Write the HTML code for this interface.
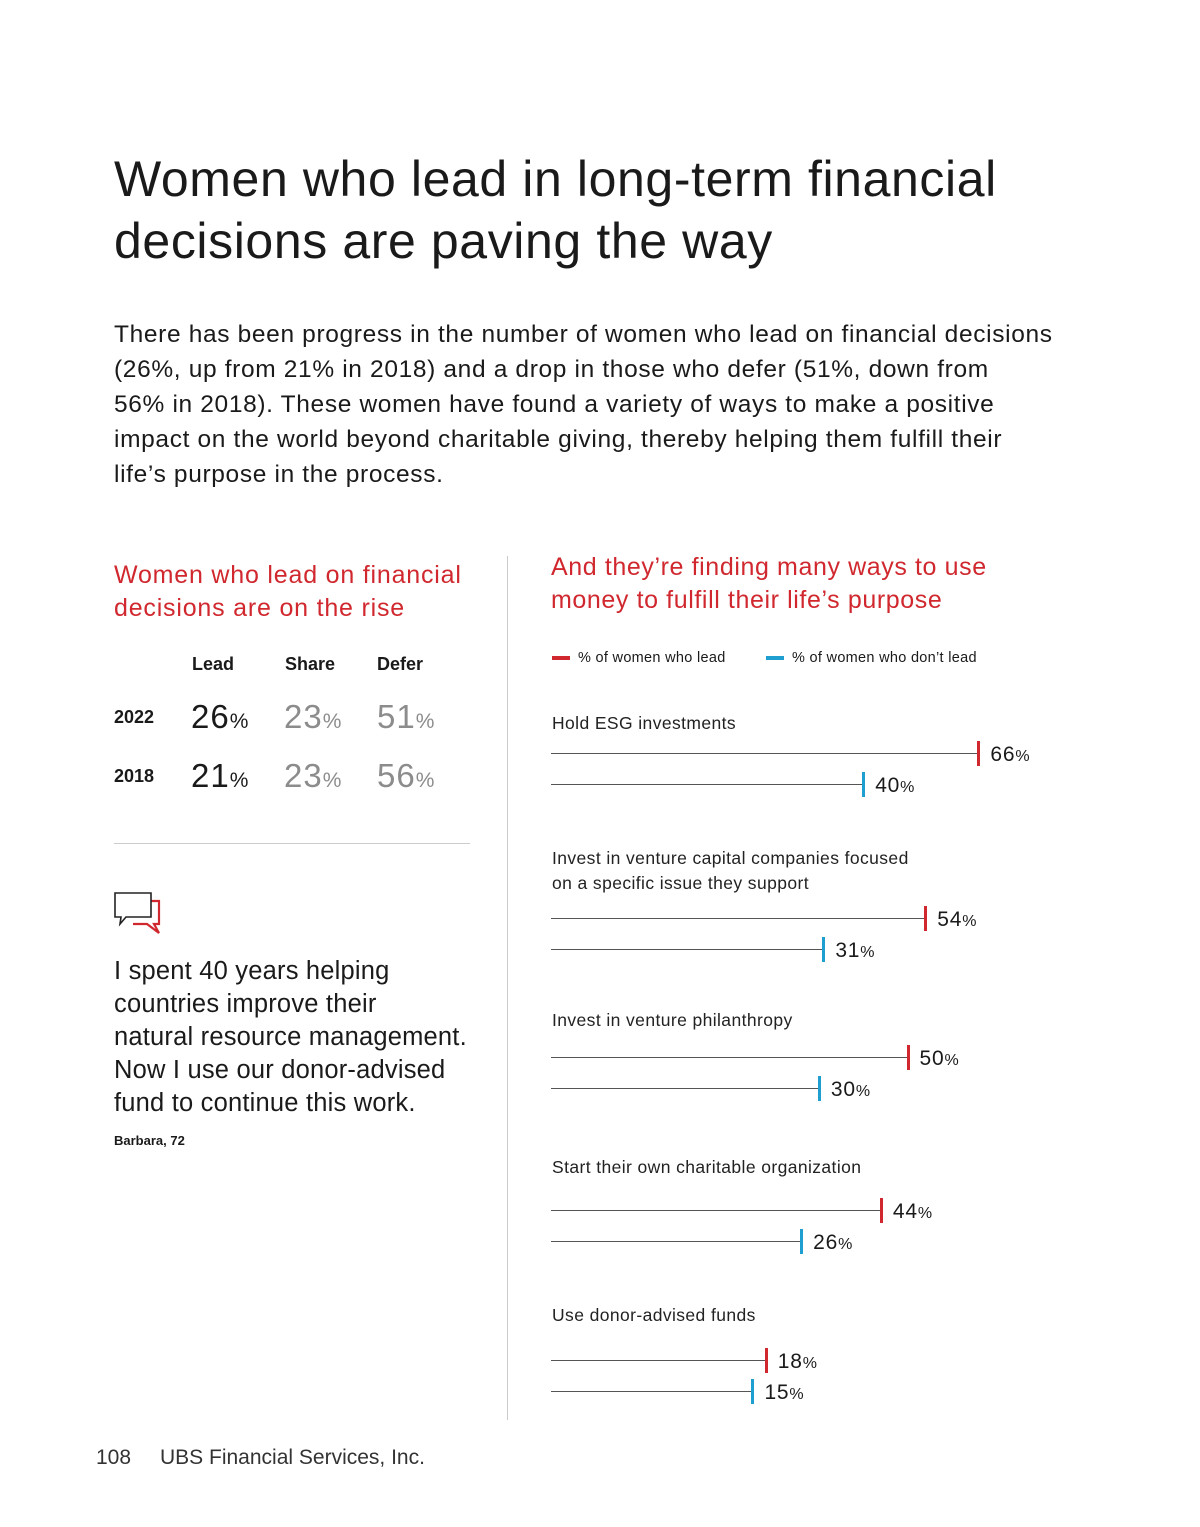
<!DOCTYPE html>
<html><head><meta charset="utf-8">
<style>
body{margin:0;background:#fff;}
#page{position:relative;width:1200px;height:1527px;overflow:hidden;font-family:"Liberation Sans",sans-serif;color:#1a1a1a;}
.a{position:absolute;white-space:nowrap;}
.red{color:#d0282e;}
.big{font-size:33px;}
.big small{font-size:21px;}
.grey{color:#8c8c8c;}
</style></head><body>
<div id="page">
<div class="a" style="left:114px;top:148px;font-size:50px;line-height:62px;letter-spacing:0.6px;">Women who lead in long-term financial<br>decisions are paving the way</div>
<div class="a" style="left:114px;top:317px;font-size:24.5px;line-height:35px;letter-spacing:0.65px;">There has been progress in the number of women who lead on financial decisions<br>(26%, up from 21% in 2018) and a drop in those who defer (51%, down from<br>56% in 2018). These women have found a variety of ways to make a positive<br>impact on the world beyond charitable giving, thereby helping them fulfill their<br>life’s purpose in the process.</div>

<div class="a red" style="left:114px;top:559px;font-size:25px;line-height:33px;letter-spacing:0.8px;">Women who lead on financial<br>decisions are on the rise</div>
<div class="a" style="left:192px;top:654px;font-size:18px;font-weight:bold;">Lead</div>
<div class="a" style="left:285px;top:654px;font-size:18px;font-weight:bold;">Share</div>
<div class="a" style="left:377px;top:654px;font-size:18px;font-weight:bold;">Defer</div>
<div class="a" style="left:114px;top:707px;font-size:18px;font-weight:bold;">2022</div>
<div class="a big" style="left:191px;top:698px;letter-spacing:1px;">26<small>%</small></div>
<div class="a big grey" style="left:284px;top:698px;letter-spacing:1px;">23<small>%</small></div>
<div class="a big grey" style="left:377px;top:698px;letter-spacing:1px;">51<small>%</small></div>
<div class="a" style="left:114px;top:766px;font-size:18px;font-weight:bold;">2018</div>
<div class="a big" style="left:191px;top:757px;letter-spacing:1px;">21<small>%</small></div>
<div class="a big grey" style="left:284px;top:757px;letter-spacing:1px;">23<small>%</small></div>
<div class="a big grey" style="left:377px;top:757px;letter-spacing:1px;">56<small>%</small></div>
<div class="a" style="left:114px;top:843px;width:356px;height:1px;background:#ccc;"></div>
<svg class="a" style="left:113px;top:891px;" width="52" height="46" viewBox="0 0 52 46">
<path d="M10 10 H46 V33 H41 L46 42 L34 33 H20" fill="none" stroke="#d0282e" stroke-width="2.2"/>
<path d="M2 2 H38 V26 H13 L7 33 L8 26 H2 Z" fill="#fff" stroke="#222" stroke-width="1.6"/>
</svg>
<div class="a" style="left:114px;top:955px;font-size:25.5px;line-height:33px;letter-spacing:0.2px;">I spent 40 years helping<br>countries improve their<br>natural resource management.<br>Now I use our donor-advised<br>fund to continue this work.</div>
<div class="a" style="left:114px;top:1133px;font-size:13px;font-weight:bold;">Barbara, 72</div>
<div class="a" style="left:507px;top:556px;width:1px;height:864px;background:#ccc;"></div>

<div class="a red" style="left:551px;top:551px;font-size:25px;line-height:33px;letter-spacing:0.6px;">And they’re finding many ways to use<br>money to fulfill their life’s purpose</div>
<div class="a" style="left:552px;top:650px;font-size:14.5px;letter-spacing:0.3px;"><span style="display:inline-block;width:18px;height:4px;background:#d0282e;vertical-align:middle;margin-right:8px;"></span>% of women who lead</div>
<div class="a" style="left:766px;top:650px;font-size:14.5px;letter-spacing:0.3px;"><span style="display:inline-block;width:18px;height:4px;background:#1f9fcf;vertical-align:middle;margin-right:8px;"></span>% of women who don’t lead</div>
<div id="chart"></div>
<div class="a" style="left:96px;top:1446px;font-size:21px;color:#333;">108</div>
<div class="a" style="left:160px;top:1446px;font-size:21px;color:#333;">UBS Financial Services, Inc.</div>
</div>
<script>
const categories=[["Hold ESG investments"],["Invest in venture capital companies focused","on a specific issue they support"],["Invest in venture philanthropy"],["Start their own charitable organization"],["Use donor-advised funds"]];
const leadValues=[66,54,50,44,18];
const dontLeadValues=[40,31,30,26,15];
const labelTops=[711,846,1008,1155,1303];
const redYs=[753,918,1057,1210,1360];
function xScale(v){return 686+4.43*v;}
const chart=document.getElementById('chart');
const lineStart=551;
function mark(y,v,color,nm){
  const line=document.createElement('div');
  
  
  line.className='a';
  line.style.cssText=`left:${lineStart}px;top:${y}px;width:${xScale(v)-lineStart}px;height:1px;background:#555;`;
  chart.appendChild(line);
  const tick=document.createElement('div');
  
  
  tick.className='a';
  tick.style.cssText=`left:${xScale(v)-1}px;top:${y-12}px;width:3px;height:25px;background:${color};`;
  chart.appendChild(tick);
  const lab=document.createElement('div');
  
  
  lab.className='a';
  lab.style.cssText=`left:${xScale(v)+12}px;top:${y-10}px;font-size:21px;letter-spacing:0.8px;color:#1a1a1a;`;
  lab.innerHTML=v+'<span style="font-size:16px">%</span>';
  chart.appendChild(lab);
}
categories.forEach((c,i)=>{
  const t=document.createElement('div');
  
  
  t.className='a';
  t.style.cssText=`left:552px;top:${labelTops[i]}px;font-size:17.5px;line-height:25px;letter-spacing:0.4px;color:#222;`;
  t.innerHTML=c.join('<br>');
  chart.appendChild(t);
  mark(redYs[i],leadValues[i],'#d0282e','lead-bar');
  mark(redYs[i]+31,dontLeadValues[i],'#1f9fcf','dont-lead-bar');
});
</script>
</body></html>
